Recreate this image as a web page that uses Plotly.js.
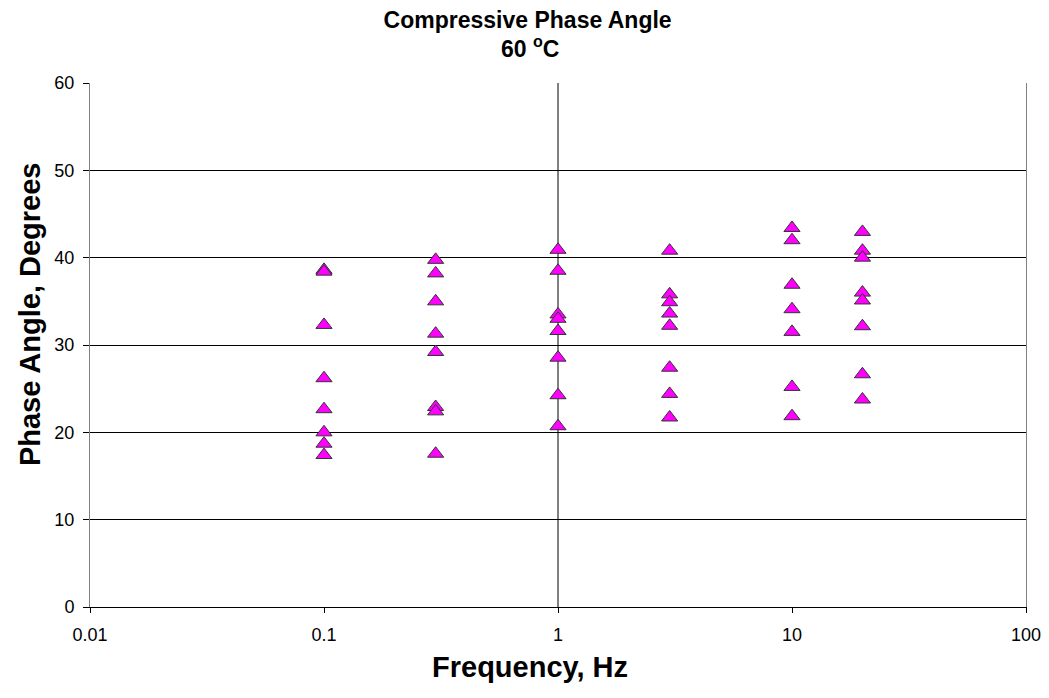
<!DOCTYPE html>
<html>
<head>
<meta charset="utf-8">
<script src="https://cdn.plot.ly/plotly-3.0.1.min.js"></script>
<style>
  html, body { margin: 0; padding: 0; background: #fff; }
  #chart { width: 1049px; height: 698px; }
</style>
</head>
<body>
<div id="chart"></div>
<script>
// Test frequencies (Hz) and the phase angles (degrees) measured at each one
const frequencies = [0.1, 0.3, 1, 3, 10, 20];
const angles_0_1Hz = [38.6, 38.4, 32.3, 26.2, 22.65, 20.0, 18.7, 17.4];
const angles_0_3Hz = [39.75, 38.2, 35.0, 31.3, 29.2, 22.9, 22.4, 17.55];
const angles_1Hz = [40.9, 38.5, 33.5, 33.0, 31.6, 28.55, 24.25, 20.7];
const angles_3Hz = [40.8, 35.8, 34.9, 33.6, 32.2, 27.4, 24.4, 21.7];
const angles_10Hz = [43.4, 42.0, 36.9, 34.1, 31.5, 25.2, 21.85];
const angles_20Hz = [42.95, 40.8, 40.0, 36.0, 35.1, 32.15, 26.65, 23.76];

const yTicks = [0, 10, 20, 30, 40, 50, 60];
const xTicks = [0.01, 0.1, 1, 10, 100];
const xTickText = ['0.01', '0.1', '1', '10', '100'];

const groups = [angles_0_1Hz, angles_0_3Hz, angles_1Hz, angles_3Hz, angles_10Hz, angles_20Hz];
const xs = [], ys = [];
groups.forEach((g, i) => g.forEach(v => { xs.push(frequencies[i]); ys.push(v); }));

const FONT = 'Liberation Sans, Arial, sans-serif';
const titleFont = { family: FONT, size: 23, color: '#000' };
const axisTitleFont = { family: FONT, size: 29, color: '#000' };

const trace = {
  type: 'scatter',
  mode: 'markers',
  x: xs,
  y: ys,
  marker: {
    symbol: 'triangle-up',
    size: 14,
    color: '#FF00FF',
    line: { color: '#333333', width: 1 }
  },
  hoverinfo: 'x+y',
  showlegend: false
};

const layout = {
  width: 1049,
  height: 698,
  paper_bgcolor: '#ffffff',
  plot_bgcolor: '#ffffff',
  margin: { l: 90, r: 23, t: 83, b: 91 },
  font: { family: FONT, color: '#000' },
  title: {
    text: '<b>Compressive Phase Angle</b>',
    font: titleFont,
    x: 0.503, xref: 'container', xanchor: 'center',
    y: 0.9713, yref: 'container', yanchor: 'middle'
  },
  xaxis: {
    type: 'log',
    range: [-2, 2],
    tickvals: xTicks,
    ticktext: xTickText,
    ticks: 'outside',
    ticklen: 5,
    tickcolor: '#000',
    tickfont: { family: FONT, size: 18, color: '#000' },
    ticklabelstandoff: 6,
    showgrid: false,
    showline: true,
    linecolor: '#000',
    linewidth: 1,
    mirror: false,
    zeroline: false,
    automargin: false
  },
  yaxis: {
    range: [0, 60],
    tickvals: yTicks,
    ticks: 'outside',
    ticklen: 6,
    tickcolor: '#000',
    tickfont: { family: FONT, size: 18, color: '#000' },
    ticklabelstandoff: 5,
    showgrid: true,
    gridcolor: '#000',
    gridwidth: 1,
    showline: true,
    linecolor: '#808080',
    linewidth: 1,
    mirror: true,
    zeroline: false,
    automargin: false
  },
  annotations: [
    // second title line: test temperature
    { text: '<b>60 <sup>o</sup>C</b>', xref: 'paper', yref: 'paper',
      x: 0.47, y: 1.0687, xanchor: 'center', yanchor: 'middle',
      showarrow: false, font: titleFont },
    // axis titles
    { text: '<b>Frequency, Hz</b>', xref: 'paper', yref: 'paper',
      x: 0.47, y: -0.1145, xanchor: 'center', yanchor: 'middle',
      showarrow: false, font: axisTitleFont },
    { text: '<b>Phase Angle, Degrees</b>', xref: 'paper', yref: 'paper',
      x: -0.0641, y: 0.559, xanchor: 'center', yanchor: 'middle',
      textangle: -90, showarrow: false, font: axisTitleFont }
  ],
  shapes: [
    // value axis crossing the category axis at 1 Hz
    { type: 'line', xref: 'x', yref: 'paper', x0: 1, x1: 1, y0: 0, y1: 1,
      line: { color: '#000', width: 1 }, layer: 'below' }
  ]
};

Plotly.newPlot('chart', [trace], layout, { displayModeBar: false, staticPlot: true });
</script>
</body>
</html>
